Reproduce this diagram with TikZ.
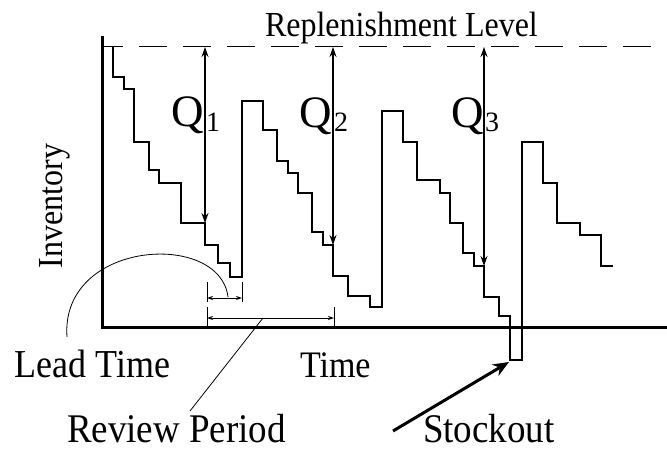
\documentclass[tikz,border=0pt]{standalone}
\usepackage{fontspec}
\setmainfont{Liberation Serif}
\usetikzlibrary{arrows.meta}
\newcommand{\tallx}[1]{\scalebox{1}[1.1]{#1}}
\tikzset{
  lbl/.style={inner sep=0pt, outer sep=0pt, text=black},
  axisline/.style={line width=3pt},
  stepline/.style={line width=1.3pt, line join=miter},
  qarrow/.style={line width=1.1pt, {Stealth[length=10pt,width=7pt]}-{Stealth[length=10pt,width=7pt]}},
  dimarrow/.style={line width=0.9pt, {Stealth[length=6pt,width=4pt]}-{Stealth[length=6pt,width=4pt]}},
  tick/.style={line width=0.9pt},
  leader/.style={line width=0.8pt},
  dashline/.style={line width=1pt, dash pattern=on 28pt off 16pt, dash phase=7pt},
  bigarrow/.style={line width=3pt, -{Stealth[length=16pt,width=13pt]}}
}
\begin{document}
\begin{tikzpicture}[x=1pt,y=-1pt]
\useasboundingbox (0,0) rectangle (667,452);
\fill[white] (0,0) rectangle (667,452);

% axes
\coordinate (ytop) at (102,36);
\coordinate (orig) at (102,327);
\coordinate (xend) at (667,327);
\draw[axisline] (ytop) -- (orig) -- (xend);

% replenishment level
\coordinate (dl) at (102,47);
\coordinate (dr) at (667,47);
\draw[dashline] (dl) -- (dr);
\node[lbl, anchor=base west, font=\fontsize{32}{36}\selectfont] (repl) at (265,37) {\tallx{Replenishment Level}};

% inventory curve
\draw[stepline] (113,47) -- (113,77) -- (124,77) -- (124,89) -- (134,89) -- (134,142) -- (149,142) -- (149,170) -- (159,170) -- (159,183) -- (181,183) -- (181,223) -- (205,223) -- (205,245) -- (218,245) -- (218,263) -- (230,263) -- (230,277) -- (242,277) -- (242,101) -- (263,101) -- (263,130) -- (277,130) -- (277,161) -- (288,161) -- (288,173) -- (298,173) -- (298,193) -- (312,193) -- (312,232) -- (323,232) -- (323,245) -- (333,245) -- (333,276) -- (348,276) -- (348,296) -- (370,296) -- (370,307) -- (382,307) -- (382,111) -- (403,111) -- (403,142) -- (417,142) -- (417,180) -- (440,180) -- (440,193) -- (450,193) -- (450,223) -- (463,223) -- (463,253) -- (474,253) -- (474,266) -- (484,266) -- (484,297) -- (499,297) -- (499,316) -- (510,316) -- (510,360) -- (522,360) -- (522,142) -- (543,142) -- (543,183) -- (557,183) -- (557,223) -- (580,223) -- (580,235) -- (601,235) -- (601,266) -- (613,266);

% Q arrows
\coordinate (q1t) at (205,47);  \coordinate (q1b) at (205,223);
\coordinate (q2t) at (333,47);  \coordinate (q2b) at (333,245);
\coordinate (q3t) at (484,47);  \coordinate (q3b) at (484,266);
\draw[qarrow] (q1t) -- (q1b);
\draw[qarrow] (q2t) -- (q2b);
\draw[qarrow] (q3t) -- (q3b);
\node[lbl, anchor=base east, font=\fontsize{45}{50}\selectfont] (Q1) at (204,126) {Q};
\node[lbl, anchor=base west, font=\fontsize{28}{32}\selectfont] (s1) at (206,131) {1};
\node[lbl, anchor=base east, font=\fontsize{45}{50}\selectfont] (Q2) at (332,127) {Q};
\node[lbl, anchor=base west, font=\fontsize{28}{32}\selectfont] (s2) at (334,131) {2};
\node[lbl, anchor=base east, font=\fontsize{45}{50}\selectfont] (Q3) at (484,127) {Q};
\node[lbl, anchor=base west, font=\fontsize{28}{32}\selectfont] (s3) at (485,131) {3};

% lead time bracket
\coordinate (lt1a) at (207,282); \coordinate (lt1b) at (207,302);
\coordinate (lt2a) at (242,282); \coordinate (lt2b) at (242,302);
\draw[tick] (lt1a) -- (lt1b);
\draw[tick] (lt2a) -- (lt2b);
\coordinate (lta) at (207,298); \coordinate (ltb) at (242,298);
\draw[dimarrow] (lta) -- (ltb);

% review period bracket
\coordinate (rp1a) at (207,307); \coordinate (rp1b) at (207,327);
\coordinate (rp2a) at (334,307); \coordinate (rp2b) at (334,327);
\draw[tick] (rp1a) -- (rp1b);
\draw[tick] (rp2a) -- (rp2b);
\coordinate (rpa) at (207,318); \coordinate (rpb) at (334,318);
\draw[dimarrow] (rpa) -- (rpb);

% lead time arc
\coordinate (arcs) at (67,337);
\coordinate (arce) at (228,297);
\draw[leader] (arcs) .. controls (60,240) and (220,230) .. (arce);

% review period leader
\coordinate (rls) at (190,411);
\coordinate (rle) at (263,318);
\draw[leader] (rls) -- (rle);

% stockout arrow
\coordinate (sos) at (393,431);
\coordinate (soe) at (509,362);
\draw[bigarrow] (sos) -- (soe);

% labels
\node[lbl, anchor=base west, font=\fontsize{36}{40}\selectfont] (lead) at (15,377) {\tallx{Lead Time}};
\node[lbl, anchor=base west, font=\fontsize{34}{40}\selectfont] (time) at (300,377) {\tallx{Time}};
\node[lbl, anchor=base west, font=\fontsize{37}{40}\selectfont] (review) at (67,442) {\tallx{Review Period}};
\node[lbl, anchor=base west, font=\fontsize{37}{40}\selectfont] (stock) at (423,442) {\tallx{Stockout}};
\node[lbl, anchor=base west, rotate=90, font=\fontsize{32}{36}\selectfont] (inv) at (62,268) {\tallx{Inventory}};
\end{tikzpicture}
\end{document}
